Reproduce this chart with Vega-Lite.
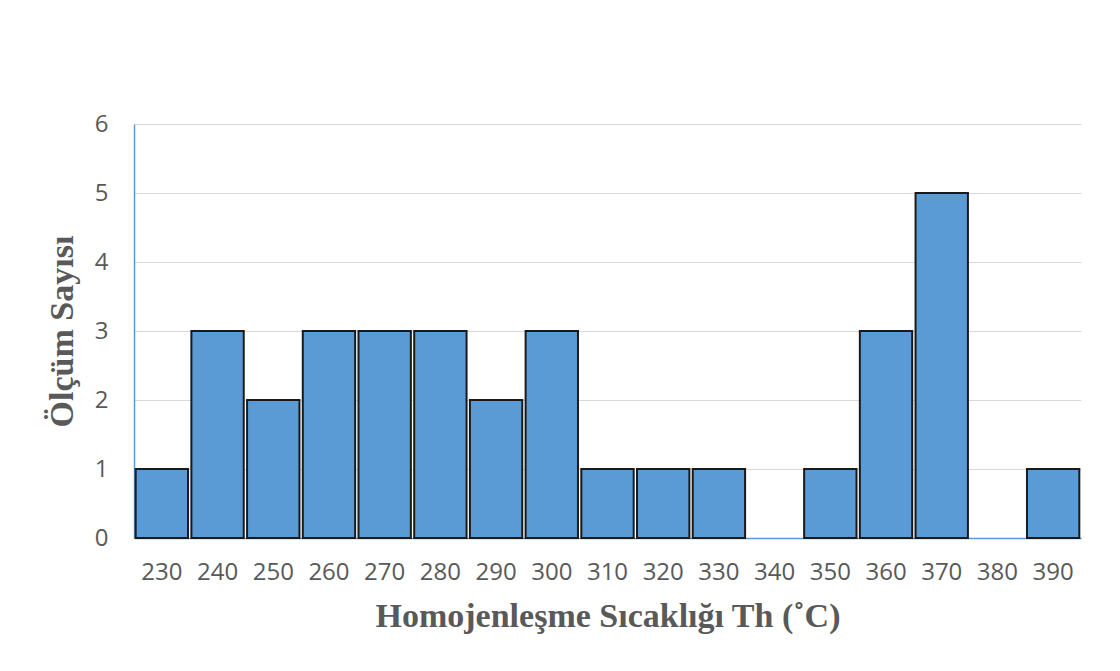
{
  "$schema": "https://vega.github.io/schema/vega-lite/v6.json",
  "width": 947,
  "height": 414,
  "autosize": "none",
  "padding": {"left": 134, "top": 124, "right": 39, "bottom": 133},
  "background": "white",
  "data": {"values": [
    {"sicaklik": "230", "sayi": 1},
    {"sicaklik": "240", "sayi": 3},
    {"sicaklik": "250", "sayi": 2},
    {"sicaklik": "260", "sayi": 3},
    {"sicaklik": "270", "sayi": 3},
    {"sicaklik": "280", "sayi": 3},
    {"sicaklik": "290", "sayi": 2},
    {"sicaklik": "300", "sayi": 3},
    {"sicaklik": "310", "sayi": 1},
    {"sicaklik": "320", "sayi": 1},
    {"sicaklik": "330", "sayi": 1},
    {"sicaklik": "340", "sayi": 0},
    {"sicaklik": "350", "sayi": 1},
    {"sicaklik": "360", "sayi": 3},
    {"sicaklik": "370", "sayi": 5},
    {"sicaklik": "380", "sayi": 0},
    {"sicaklik": "390", "sayi": 1}
  ]},
  "mark": {"type": "bar", "fill": "#5B9BD5", "stroke": "#1a1a1a", "strokeWidth": 2},
  "encoding": {
    "x": {
      "field": "sicaklik", "type": "ordinal", "sort": null,
      "scale": {"paddingInner": 0.06, "paddingOuter": 0.03},
      "axis": {
        "title": "Homojenleşme Sıcaklığı Th (˚C)",
        "labelAngle": 0, "labelFont": "Open Sans", "labelFontSize": 24, "labelColor": "#595959",
        "labelPadding": 22, "ticks": false, "domainColor": "#5B9BD5", "domainWidth": 1.5,
        "titleFont": "Liberation Serif", "titleFontSize": 34, "titleFontWeight": "bold", "titleColor": "#595959",
        "titlePadding": 15, "grid": false
      }
    },
    "y": {
      "field": "sayi", "type": "quantitative",
      "scale": {"domain": [0, 6]},
      "axis": {
        "title": "Ölçüm Sayısı",
        "values": [0, 1, 2, 3, 4, 5, 6],
        "labelFont": "Open Sans", "labelFontSize": 24, "labelColor": "#595959", "labelPadding": 26,
        "labelOverlap": false,
        "ticks": false, "domainColor": "#5B9BD5", "domainWidth": 1.5,
        "gridColor": "#D9D9D9", "gridWidth": 1.2,
        "titleFont": "Liberation Serif", "titleFontSize": 34, "titleFontWeight": "bold", "titleColor": "#595959",
        "titlePadding": 15
      }
    },
    "strokeOpacity": {"condition": {"test": "datum.sayi == 0", "value": 0}, "value": 1}
  },
  "config": {"view": {"stroke": null}}
}
